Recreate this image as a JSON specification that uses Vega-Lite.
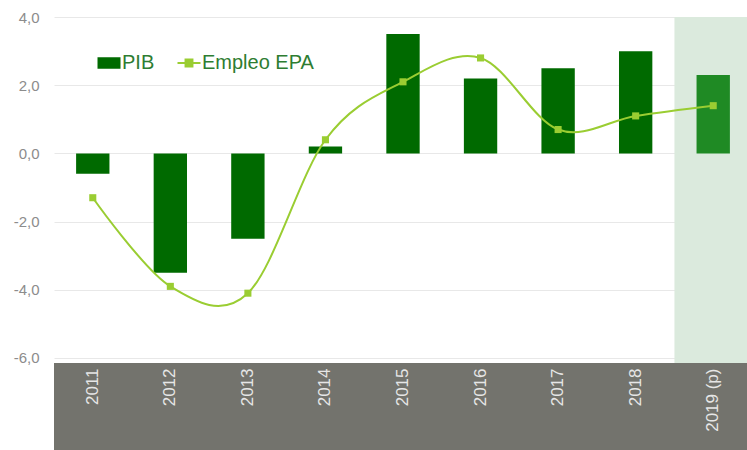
{
  "$schema": "https://vega.github.io/schema/vega-lite/v6.json",
  "autosize": {"type": "none"},
  "padding": {"left": 54, "top": 0, "right": 0, "bottom": 0},
  "width": 698,
  "height": 450,
  "background": "white",
  "config": {"view": {"stroke": null}, "font": "Liberation Sans"},
  "data": {"values": [
    {"year": "2011", "PIB": -0.6, "EPA": -1.3},
    {"year": "2012", "PIB": -3.5, "EPA": -3.9},
    {"year": "2013", "PIB": -2.5, "EPA": -4.1},
    {"year": "2014", "PIB": 0.2, "EPA": 0.4},
    {"year": "2015", "PIB": 3.5, "EPA": 2.1},
    {"year": "2016", "PIB": 2.2, "EPA": 2.8},
    {"year": "2017", "PIB": 2.5, "EPA": 0.7},
    {"year": "2018", "PIB": 3.0, "EPA": 1.1},
    {"year": "2019 (p)", "PIB": 2.3, "EPA": 1.4}
  ]},
  "layer": [
    {
      "data": {"values": [{"band": "previsión"}]},
      "mark": {"type": "rect", "color": "#dbeadd"},
      "encoding": {
        "x": {"datum": "2019 (p)", "type": "nominal",
          "scale": {"domain": ["2011", "2012", "2013", "2014", "2015", "2016", "2017", "2018", "2019 (p)"], "paddingInner": 0, "paddingOuter": 0},
          "axis": {"title": null, "orient": "bottom", "offset": -87, "labelAngle": -90,
            "labelPadding": 5, "labelFontSize": 17, "labelColor": "#e6e6e6",
            "domain": false, "ticks": false, "grid": false}},
        "y": {"datum": 4, "type": "quantitative", "scale": {"domain": [-8.7, 4.5], "nice": false, "zero": false},
          "axis": {"title": null, "values": [-6, -4, -2, 0, 2, 4], "grid": true,
            "labelExpr": "(datum.value < 0 ? '-' : '') + replace(format(abs(datum.value), '.1f'), '.', ',')",
            "labelFontSize": 15, "labelColor": "#8c8c8c", "labelPadding": 15,
            "domain": false, "ticks": false, "gridColor": "#e8e8e8", "gridWidth": 1}},
        "y2": {"datum": -6.15}
      }
    },
    {
      "data": {"values": [{"band": "eje"}]},
      "mark": {"type": "rect", "color": "#73736d"},
      "encoding": {
        "y": {"datum": -6.15, "type": "quantitative"},
        "y2": {"datum": -8.7}
      }
    },
    {
      "mark": {"type": "bar", "width": {"band": 0.43}},
      "encoding": {
        "x": {"field": "year", "type": "nominal", "sort": null},
        "y": {"field": "PIB", "type": "quantitative"},
        "y2": {"datum": 0},
        "color": {
          "condition": {"test": "datum.year === '2019 (p)'", "value": "#1f8a24"},
          "datum": "PIB", "type": "nominal",
          "scale": {"domain": ["PIB", "Empleo EPA"], "range": ["#006a00", "#9acd32"]},
          "legend": {"title": null, "orient": "none", "legendX": 45, "legendY": 53,
            "direction": "horizontal", "labelFontSize": 20, "labelColor": "#2e7d32",
            "symbolSize": 529, "labelOffset": 3, "columnPadding": 18,
            "encode": {"symbols": {"update": {
              "shape": {"signal": "datum.value === 'PIB' ? 'M-1,-0.5H1V0.5H-1Z' : 'M-1,0H-0.3V-0.3H0.3V0H1H0.3V0.3H-0.3V0Z'"},
              "strokeWidth": {"signal": "datum.value === 'PIB' ? 0 : 2"},
              "stroke": {"signal": "datum.value === 'PIB' ? '#006a00' : '#9acd32'"},
              "fill": {"signal": "datum.value === 'PIB' ? '#006a00' : '#9acd32'"},
              "opacity": {"value": 1}
            }}}}
        }
      }
    },
    {
      "mark": {"type": "line", "interpolate": "cardinal", "tension": 0, "strokeWidth": 2},
      "encoding": {
        "x": {"field": "year", "type": "nominal", "sort": null},
        "y": {"field": "EPA", "type": "quantitative"},
        "color": {"datum": "Empleo EPA", "type": "nominal"}
      }
    },
    {
      "mark": {"type": "point", "shape": "square", "filled": true, "size": 50, "opacity": 1},
      "encoding": {
        "x": {"field": "year", "type": "nominal", "sort": null},
        "y": {"field": "EPA", "type": "quantitative"},
        "color": {"datum": "Empleo EPA", "type": "nominal"}
      }
    }
  ]
}
